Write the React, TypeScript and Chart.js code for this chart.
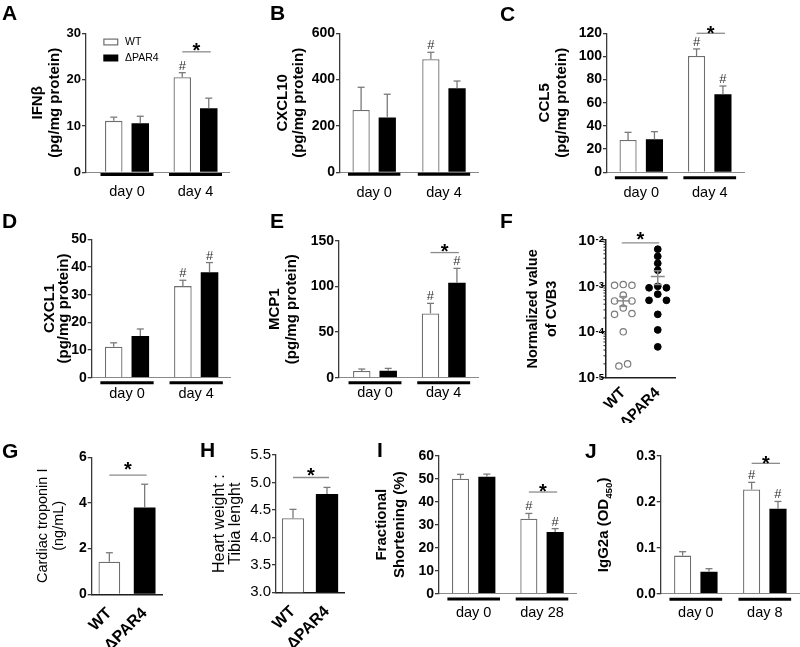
import React, { useEffect, useRef } from "react";
import { Chart, registerables } from "chart.js";

Chart.register(...registerables);

const FONT = "'Liberation Sans', Arial, Helvetica, sans-serif";
Chart.defaults.font.family = FONT;

// ================= DATA =================
const genotypes = ["WT", "ΔPAR4"];
const groupsDay4 = ["day 0", "day 4"];
const groupsDay28 = ["day 0", "day 28"];
const groupsDay8 = ["day 0", "day 8"];

// A  IFNβ
const ifnbWT = [11.1, 20.5];
const ifnbWTSem = [0.8, 1.0];
const ifnbKO = [10.6, 13.8];
const ifnbKOSem = [1.5, 2.2];
const ifnbWTHash = [false, true];
const ifnbKOHash = [false, false];
const ifnbStar = [null, 26];
const ifnbAxis = [0, 30, 10];

// B  CXCL10
const cxcl10WT = [269, 488];
const cxcl10WTSem = [98, 30];
const cxcl10KO = [237, 363];
const cxcl10KOSem = [100, 31];
const cxcl10WTHash = [false, true];
const cxcl10KOHash = [false, false];
const cxcl10Star = [null, null];
const cxcl10Axis = [0, 600, 200];

// C  CCL5
const ccl5WT = [27.9, 100.4];
const ccl5WTSem = [6.6, 6.1];
const ccl5KO = [28.5, 67.3];
const ccl5KOSem = [6.6, 7.2];
const ccl5WTHash = [false, true];
const ccl5KOHash = [false, true];
const ccl5Star = [null, 120];
const ccl5Axis = [0, 120, 20];

// D  CXCL1
const cxcl1WT = [11.2, 33.1];
const cxcl1WTSem = [1.4, 2.1];
const cxcl1KO = [15.1, 38.1];
const cxcl1KOSem = [2.5, 3.5];
const cxcl1WTHash = [false, true];
const cxcl1KOHash = [false, true];
const cxcl1Star = [null, null];
const cxcl1Axis = [0, 50, 10];

// E  MCP1
const mcp1WT = [7.3, 70.4];
const mcp1WTSem = [2.2, 11.0];
const mcp1KO = [7.7, 104.0];
const mcp1KOSem = [2.5, 15.7];
const mcp1WTHash = [false, true];
const mcp1KOHash = [false, true];
const mcp1Star = [null, 137];
const mcp1Axis = [0, 150, 50];

// F  CVB3 (normalized value, individual animals)
const cvb3WT = [1.07e-3, 1.03e-3, 1.03e-3, 6.3e-4, 4.7e-4, 4.7e-4, 3.3e-4, 2.5e-4, 2.4e-4, 1.0e-4, 2.0e-5, 1.8e-5];
const cvb3KO = [6.3e-3, 4.4e-3, 3.1e-3, 2.2e-3, 9.8e-4, 9.1e-4, 9.1e-4, 6.6e-4, 4.85e-4, 4.85e-4, 2.4e-4, 1.1e-4, 4.7e-5];
const cvb3Star = 8.7e-3;
const cvb3Ticks = [1e-5, 1e-4, 1e-3, 1e-2];

// G  Cardiac troponin I
const troponin = [1.43, 3.8];
const troponinSem = [0.39, 1.02];
const troponinStar = 5.22;
const troponinAxis = [0, 6, 2];

// H  Heart weight : tibia length
const hwtl = [4.35, 4.79];
const hwtlSem = [0.16, 0.12];
const hwtlStar = 5.09;
const hwtlAxis = [3, 5.5, 0.5];

// I  Fractional shortening
const fsWT = [50.0, 32.6];
const fsWTSem = [1.9, 2.3];
const fsKO = [50.9, 26.8];
const fsKOSem = [1.1, 1.5];
const fsWTHash = [false, true];
const fsKOHash = [false, true];
const fsStar = [null, 44.2];
const fsAxis = [0, 60, 10];

// J  IgG2a
const iggWT = [0.083, 0.227];
const iggWTSem = [0.0085, 0.0156];
const iggKO = [0.048, 0.185];
const iggKOSem = [0.0065, 0.016];
const iggWTHash = [false, true];
const iggKOHash = [false, true];
const iggStar = [null, 0.284];
const iggAxis = [0, 0.3, 0.1];

// ================= HELPERS =================
function line(ctx: any, x1: number, y1: number, x2: number, y2: number) {
  ctx.beginPath();
  ctx.moveTo(x1, y1);
  ctx.lineTo(x2, y2);
  ctx.stroke();
}

function drawLetter(ctx: any, letter: string, at: number[], box: number[]) {
  ctx.save();
  ctx.fillStyle = "#000";
  ctx.font = `bold 21px ${FONT}`;
  ctx.textAlign = "left";
  ctx.textBaseline = "alphabetic";
  ctx.fillText(letter, at[0] - box[0], at[1] - box[1]);
  ctx.restore();
}

function drawStar(ctx: any, x1: number, x2: number, y: number, dy: number) {
  ctx.save();
  ctx.strokeStyle = "#8c8c8c";
  ctx.lineWidth = 1.3;
  line(ctx, x1, y, x2, y);
  ctx.fillStyle = "#000";
  ctx.font = `bold 20px ${FONT}`;
  ctx.textAlign = "center";
  ctx.textBaseline = "alphabetic";
  ctx.fillText("*", (x1 + x2) / 2, y + dy + 0.57 * 20);
  ctx.restore();
}

function drawErr(ctx: any, x: number, yTop: number, yErr: number) {
  ctx.save();
  ctx.strokeStyle = "#7a7a7a";
  ctx.lineWidth = 1.3;
  line(ctx, x, yTop, x, yErr);
  line(ctx, x - 3.5, yErr, x + 3.5, yErr);
  ctx.restore();
}

function drawHash(ctx: any, x: number, yErr: number) {
  ctx.save();
  ctx.fillStyle = "#333";
  ctx.font = `13px ${FONT}`;
  ctx.textAlign = "center";
  ctx.textBaseline = "alphabetic";
  ctx.fillText("#", x, yErr - 3);
  ctx.restore();
}

function drawRotatedSub(ctx: any, x: number, y: number, main: string, sub: string, tail: string, size: number) {
  ctx.save();
  ctx.translate(x, y);
  ctx.rotate(-Math.PI / 2);
  ctx.fillStyle = "#000";
  ctx.textAlign = "left";
  ctx.textBaseline = "alphabetic";
  const fMain = `bold ${size}px ${FONT}`;
  const fSub = `bold ${size * 0.65}px ${FONT}`;
  ctx.font = fMain;
  const w1 = ctx.measureText(main).width;
  const w3 = ctx.measureText(tail).width;
  ctx.font = fSub;
  const w2 = ctx.measureText(sub).width;
  let cx = -(w1 + w2 + w3) / 2;
  const base = size * 0.36;
  ctx.font = fMain;
  ctx.fillText(main, cx, base);
  cx += w1;
  ctx.font = fSub;
  ctx.fillText(sub, cx, base + size * 0.22);
  cx += w2;
  ctx.font = fMain;
  ctx.fillText(tail, cx, base);
  ctx.restore();
}

const mean = (a: number[]) => a.reduce((p, c) => p + c, 0) / a.length;
const semOf = (a: number[]) => {
  const m = mean(a);
  return Math.sqrt(a.reduce((p, c) => p + (c - m) * (c - m), 0) / (a.length - 1)) / Math.sqrt(a.length);
};

// beeswarm-like row arrangement (returns slot multipliers)
function swarmSlots(values: number[], pxPerDecade: number, thresh: number): number[] {
  const order = values.map((_, i) => i).sort((a, b) => values[b] - values[a]);
  const out = values.map(() => 0);
  let bin: number[] = [];
  const flush = () => {
    const n = bin.length;
    bin.forEach((id, k) => {
      let p: number;
      if (n % 2 === 1) p = k === 0 ? 0 : (k % 2 === 1 ? 1 : -1) * Math.ceil(k / 2);
      else p = (k % 2 === 0 ? 1 : -1) * (Math.floor(k / 2) + 0.5);
      out[id] = p;
    });
    bin = [];
  };
  for (const id of order) {
    if (bin.length && (Math.log10(values[bin[0]]) - Math.log10(values[id])) * pxPerDecade > thresh) flush();
    bin.push(id);
  }
  flush();
  return out;
}

const baseOptions = {
  animation: false,
  responsive: false,
  devicePixelRatio: 1,
  events: [],
};

function yAxisStyle(width: number) {
  return {
    border: { display: true, color: "#3a3a3a", width: 1.3 },
    grid: { display: true, drawOnChartArea: false, drawTicks: true, tickLength: 4, color: "#3a3a3a", lineWidth: 1.3 },
    afterFit: (sc: any) => {
      sc.width = width;
    },
  };
}

// ================= GROUPED BAR PANELS =================
type GroupedSpec = {
  letter: string;
  letterAt: number[];
  box: number[];
  area: number[];
  xRange: number[];
  groups: string[];
  wt: number[];
  wtSem: number[];
  wtHash: boolean[];
  ko: number[];
  koSem: number[];
  koHash: boolean[];
  star: (number | null)[];
  axis: number[];
  decimals: number;
  tickSize: number;
  title: string[] | null;
  titleX: number;
  titleLH: number;
  subTitle?: { main: string; sub: string; tail: string; x: number };
  labelPad: number;
  underDy: number;
  starDy: number;
  catPct: number;
  barPct: number;
  legend?: boolean;
};

function groupedPlugin(s: GroupedSpec) {
  return {
    id: "grouped" + s.letter,
    afterDraw(chart: any) {
      const ctx = chart.ctx;
      const xs = chart.scales.x;
      const ys = chart.scales.y;
      const ca = chart.chartArea;
      ctx.save();
      // group underlines
      const w = xs.getPixelForValue(1) - xs.getPixelForValue(0);
      const half = (w * s.catPct) / 2;
      ctx.strokeStyle = "#000";
      ctx.lineWidth = 3;
      s.groups.forEach((_, i) => {
        const cx = xs.getPixelForValue(i);
        line(ctx, cx - half, ca.bottom + s.underDy, cx + half, ca.bottom + s.underDy);
      });
      // error bars and # marks
      const series = [
        [s.wt, s.wtSem, s.wtHash],
        [s.ko, s.koSem, s.koHash],
      ] as any[];
      series.forEach(([vals, sem, hash], di) => {
        const meta = chart.getDatasetMeta(di);
        meta.data.forEach((bar: any, i: number) => {
          const yTop = ys.getPixelForValue(vals[i]);
          const yErr = ys.getPixelForValue(vals[i] + sem[i]);
          drawErr(ctx, bar.x, yTop, yErr);
          if (hash[i]) drawHash(ctx, bar.x, yErr);
        });
      });
      // significance brackets
      s.star.forEach((v, i) => {
        if (v === null) return;
        const b0 = chart.getDatasetMeta(0).data[i];
        const b1 = chart.getDatasetMeta(1).data[i];
        drawStar(ctx, b0.x, b1.x + 2, ys.getPixelForValue(v), s.starDy);
      });
      // legend
      if (s.legend) {
        const lx = ca.left + 17.3;
        [5.2, 21.2].forEach((dy, i) => {
          const top = ca.top + dy;
          if (i === 0) {
            ctx.fillStyle = "#fff";
            ctx.fillRect(lx, top, 15, 7);
            ctx.strokeStyle = "#6e6e6e";
            ctx.lineWidth = 1.2;
            ctx.strokeRect(lx + 0.6, top + 0.6, 13.8, 5.8);
          } else {
            ctx.fillStyle = "#000";
            ctx.fillRect(lx, top, 15, 7);
          }
          ctx.fillStyle = "#000";
          ctx.font = `10.5px ${FONT}`;
          ctx.textAlign = "left";
          ctx.textBaseline = "middle";
          ctx.fillText(genotypes[i], lx + 21.7, top + 3.8);
        });
      }
      if (s.subTitle) {
        const t = s.subTitle;
        drawRotatedSub(ctx, t.x - s.box[0], (ca.top + ca.bottom) / 2, t.main, t.sub, t.tail, 15);
      }
      ctx.restore();
      drawLetter(ctx, s.letter, s.letterAt, s.box);
    },
  };
}

function groupedConfig(s: GroupedSpec): any {
  const [bx, by, bw, bh] = s.box;
  const [L, T, R, B] = s.area;
  return {
    type: "bar",
    data: {
      datasets: [
        {
          label: genotypes[0],
          data: s.wt.map((v, i) => ({ x: i, y: v })),
          backgroundColor: "#ffffff",
          borderColor: "#6e6e6e",
          borderWidth: 1.3,
          categoryPercentage: s.catPct,
          barPercentage: s.barPct,
        },
        {
          label: genotypes[1],
          data: s.ko.map((v, i) => ({ x: i, y: v })),
          backgroundColor: "#000000",
          borderColor: "#000000",
          borderWidth: 0,
          categoryPercentage: s.catPct,
          barPercentage: s.barPct,
        },
      ],
    },
    options: {
      ...baseOptions,
      layout: { padding: { left: 0, top: T - by, right: bx + bw - R, bottom: 0 } },
      plugins: { legend: { display: false }, tooltip: { enabled: false } },
      scales: {
        x: {
          type: "linear",
          min: s.xRange[0],
          max: s.xRange[1],
          offset: false,
          bounds: "data",
          afterBuildTicks: (sc: any) => {
            sc.ticks = s.groups.map((_, i) => ({ value: i }));
          },
          afterFit: (sc: any) => {
            sc.height = by + bh - B;
          },
          ticks: {
            callback: (v: any) => s.groups[v] ?? "",
            autoSkip: false,
            maxRotation: 0,
            minRotation: 0,
            padding: s.labelPad,
            color: "#000",
            font: { family: FONT, size: 14.5 },
          },
          grid: { display: false, drawTicks: false, offset: false },
          border: { display: true, color: "#8a8a8a", width: 1 },
        },
        y: {
          type: "linear",
          min: s.axis[0],
          max: s.axis[1],
          ...yAxisStyle(L - bx),
          ticks: {
            stepSize: s.axis[2],
            padding: 1,
            color: "#000",
            font: { family: FONT, size: s.tickSize, weight: "bold" },
            callback: (v: any) => Number(v).toFixed(s.decimals),
          },
          title: s.title
            ? {
                display: true,
                text: s.title,
                color: "#000",
                font: { family: FONT, size: 15, weight: "bold", lineHeight: s.titleLH / 15 },
                padding: { top: s.titleX - bx - s.titleLH / 2, bottom: 0 },
              }
            : { display: false },
        },
      },
    },
    plugins: [groupedPlugin(s)],
  };
}

const specA: GroupedSpec = {
  letter: "A", letterAt: [2, 20], box: [0, 0, 262, 205], area: [86, 33.3, 229.75, 172.3], xRange: [-0.599, 1.5],
  groups: groupsDay4, wt: ifnbWT, wtSem: ifnbWTSem, wtHash: ifnbWTHash, ko: ifnbKO, koSem: ifnbKOSem, koHash: ifnbKOHash,
  star: ifnbStar, axis: ifnbAxis, decimals: 0, tickSize: 13, title: ["IFNβ", "(pg/mg protein)"], titleX: 38, titleLH: 17,
  labelPad: 10.7, underDy: 2.2, starDy: -6.7, catPct: 0.774, barPct: 0.66, legend: true,
};
const specB: GroupedSpec = {
  letter: "B", letterAt: [270, 20], box: [266, 0, 230, 205], area: [340, 33.3, 478.85, 172.3], xRange: [-0.49, 1.5],
  groups: groupsDay4, wt: cxcl10WT, wtSem: cxcl10WTSem, wtHash: cxcl10WTHash, ko: cxcl10KO, koSem: cxcl10KOSem, koHash: cxcl10KOHash,
  star: cxcl10Star, axis: cxcl10Axis, decimals: 0, tickSize: 14, title: ["CXCL10", "(pg/mg protein)"], titleX: 283.3, titleLH: 15.7,
  labelPad: 11.7, underDy: 2, starDy: -6, catPct: 0.75, barPct: 0.66,
};
const specC: GroupedSpec = {
  letter: "C", letterAt: [500, 21], box: [498, 0, 302, 205], area: [607, 33.3, 744, 172.3], xRange: [-0.5, 1.5],
  groups: groupsDay4, wt: ccl5WT, wtSem: ccl5WTSem, wtHash: ccl5WTHash, ko: ccl5KO, koSem: ccl5KOSem, koHash: ccl5KOHash,
  star: ccl5Star, axis: ccl5Axis, decimals: 0, tickSize: 14, title: ["CCL5", "(pg/mg protein)"], titleX: 545, titleLH: 16.7,
  labelPad: 11.7, underDy: 5.4, starDy: -5, catPct: 0.77, barPct: 0.65,
};
const specD: GroupedSpec = {
  letter: "D", letterAt: [2, 228], box: [0, 205, 262, 200], area: [91.7, 239.3, 230.8, 377.7], xRange: [-0.51, 1.5],
  groups: groupsDay4, wt: cxcl1WT, wtSem: cxcl1WTSem, wtHash: cxcl1WTHash, ko: cxcl1KO, koSem: cxcl1KOSem, koHash: cxcl1KOHash,
  star: cxcl1Star, axis: cxcl1Axis, decimals: 0, tickSize: 14, title: ["CXCL1", "(pg/mg protein)"], titleX: 50, titleLH: 14.3,
  labelPad: 7.9, underDy: 5, starDy: -6, catPct: 0.77, barPct: 0.66,
};
const specE: GroupedSpec = {
  letter: "E", letterAt: [270, 228], box: [266, 205, 230, 200], area: [339, 240.7, 478.05, 377.7], xRange: [-0.524, 1.5],
  groups: groupsDay4, wt: mcp1WT, wtSem: mcp1WTSem, wtHash: mcp1WTHash, ko: mcp1KO, koSem: mcp1KOSem, koHash: mcp1KOHash,
  star: mcp1Star, axis: mcp1Axis, decimals: 0, tickSize: 14, title: ["MCP1", "(pg/mg protein)"], titleX: 275, titleLH: 16.7,
  labelPad: 6.9, underDy: 5, starDy: -5.6, catPct: 0.77, barPct: 0.66,
};
const specI: GroupedSpec = {
  letter: "I", letterAt: [377, 457], box: [372, 425, 210, 222], area: [439, 455.7, 576.15, 593.7], xRange: [-0.508, 1.5],
  groups: groupsDay28, wt: fsWT, wtSem: fsWTSem, wtHash: fsWTHash, ko: fsKO, koSem: fsKOSem, koHash: fsKOHash,
  star: fsStar, axis: fsAxis, decimals: 0, tickSize: 14, title: ["Fractional", "Shortening (%)"], titleX: 382, titleLH: 17.5,
  labelPad: 10.9, underDy: 5.3, starDy: -5.3, catPct: 0.77, barPct: 0.65,
};
const specJ: GroupedSpec = {
  letter: "J", letterAt: [585, 458], box: [582, 425, 218, 222], area: [660.7, 456, 799.3, 593.7], xRange: [-0.509, 1.5],
  groups: groupsDay8, wt: iggWT, wtSem: iggWTSem, wtHash: iggWTHash, ko: iggKO, koSem: iggKOSem, koHash: iggKOHash,
  star: iggStar, axis: iggAxis, decimals: 1, tickSize: 14, title: null, titleX: 603, titleLH: 15,
  subTitle: { main: "IgG2a (OD", sub: "450", tail: ")", x: 603 },
  labelPad: 10.9, underDy: 5.6, starDy: -5, catPct: 0.764, barPct: 0.65,
};

// ================= WT vs ΔPAR4 BAR PANELS (G, H) =================
type PairSpec = {
  letter: string;
  letterAt: number[];
  box: number[];
  area: number[];
  values: number[];
  sem: number[];
  star: number;
  axis: number[];
  decimals: number;
  tickFont: any;
  title: string[];
  titleX: number;
  titleLH: number;
  titleFont: any;
  labelPad: number;
  starDy: number;
  catPct: number;
  barPct: number;
};

function pairConfig(s: PairSpec): any {
  const [bx, by, bw, bh] = s.box;
  const [L, T, R, B] = s.area;
  return {
    type: "bar",
    data: {
      labels: genotypes,
      datasets: [
        {
          data: s.values,
          backgroundColor: ["#ffffff", "#000000"],
          borderColor: ["#6e6e6e", "#000000"],
          borderWidth: [1.3, 0],
          categoryPercentage: s.catPct,
          barPercentage: s.barPct,
        },
      ],
    },
    options: {
      ...baseOptions,
      layout: { padding: { left: 0, top: T - by, right: bx + bw - R, bottom: 0 } },
      plugins: { legend: { display: false }, tooltip: { enabled: false } },
      scales: {
        x: {
          type: "category",
          offset: true,
          afterFit: (sc: any) => {
            sc.height = by + bh - B;
          },
          ticks: {
            autoSkip: false,
            maxRotation: 45,
            minRotation: 45,
            padding: s.labelPad,
            color: "#000",
            font: { family: FONT, size: 16, weight: "bold" },
          },
          grid: { display: false, drawTicks: false },
          border: { display: true, color: "#1e1e1e", width: 1.5 },
        },
        y: {
          type: "linear",
          min: s.axis[0],
          max: s.axis[1],
          ...yAxisStyle(L - bx),
          ticks: {
            stepSize: s.axis[2],
            padding: 1,
            color: "#000",
            font: s.tickFont,
            callback: (v: any) => Number(v).toFixed(s.decimals),
          },
          title: {
            display: true,
            text: s.title,
            color: "#000",
            font: { ...s.titleFont, lineHeight: s.titleLH / s.titleFont.size },
            padding: { top: s.titleX - bx - s.titleLH / 2, bottom: 0 },
          },
        },
      },
    },
    plugins: [
      {
        id: "pair" + s.letter,
        afterDraw(chart: any) {
          const ctx = chart.ctx;
          const ys = chart.scales.y;
          const bars = chart.getDatasetMeta(0).data;
          bars.forEach((bar: any, i: number) => {
            drawErr(ctx, bar.x, ys.getPixelForValue(s.values[i]), ys.getPixelForValue(s.values[i] + s.sem[i]));
          });
          drawStar(ctx, bars[0].x, bars[1].x + 2, ys.getPixelForValue(s.star), s.starDy);
          drawLetter(ctx, s.letter, s.letterAt, s.box);
        },
      },
    ],
  };
}

const specG: PairSpec = {
  letter: "G", letterAt: [2, 458], box: [0, 425, 196, 222], area: [91.7, 457.3, 162.3, 594.3],
  values: troponin, sem: troponinSem, star: troponinStar, axis: troponinAxis, decimals: 0,
  tickFont: { family: FONT, size: 14, weight: "bold" },
  title: ["Cardiac troponin I", "(ng/mL)"], titleX: 42.7, titleLH: 16.6,
  titleFont: { family: FONT, size: 14.5, weight: "normal" },
  labelPad: 9.7, starDy: -11, catPct: 0.8, barPct: 0.77,
};
const specH: PairSpec = {
  letter: "H", letterAt: [200, 457], box: [198, 425, 176, 222], area: [276, 455, 344, 592.3],
  values: hwtl, sem: hwtlSem, star: hwtlStar, axis: hwtlAxis, decimals: 1,
  tickFont: { family: FONT, size: 15, weight: "normal" },
  title: ["Heart weight :", "Tibia lenght"], titleX: 220, titleLH: 15.7,
  titleFont: { family: FONT, size: 16, weight: "normal" },
  labelPad: 10, starDy: -7.3, catPct: 0.8, barPct: 0.82,
};

// ================= F: scatter on log axis =================
const geoF = {
  letter: "F", letterAt: [500, 228], box: [498, 205, 302, 218], area: [606, 240, 675, 377.7],
  titleX: 532.5, titleLH: 19.2, labelPad: 6.4, starDy: -8.4,
};

function cvb3Config(): any {
  const g = geoF;
  const [bx, by, bw, bh] = g.box;
  const [L, T, R, B] = g.area;
  const pxPerDecade = (B - T) / 3;
  const slotUnits = 8.7 / ((R - L) / 2);
  const wtSlots = swarmSlots(cvb3WT, pxPerDecade, 6.5);
  const koSlots = swarmSlots(cvb3KO, pxPerDecade, 6.5);
  return {
    type: "scatter",
    data: {
      datasets: [
        {
          label: genotypes[0],
          data: cvb3WT.map((v, i) => ({ x: 0 + wtSlots[i] * slotUnits, y: v })),
          pointRadius: 3.2,
          pointBackgroundColor: "#ffffff",
          pointBorderColor: "#7a7a7a",
          pointBorderWidth: 1.2,
        },
        {
          label: genotypes[1],
          data: cvb3KO.map((v, i) => ({ x: 1 + koSlots[i] * slotUnits, y: v })),
          pointRadius: 3.4,
          pointBackgroundColor: "#000000",
          pointBorderColor: "#000000",
          pointBorderWidth: 1,
        },
      ],
    },
    options: {
      ...baseOptions,
      clip: false,
      layout: { padding: { left: 0, top: T - by, right: bx + bw - R, bottom: 0 } },
      plugins: { legend: { display: false }, tooltip: { enabled: false } },
      scales: {
        x: {
          type: "linear",
          min: -0.5,
          max: 1.5,
          offset: false,
          bounds: "data",
          afterBuildTicks: (sc: any) => {
            sc.ticks = genotypes.map((_, i) => ({ value: i }));
          },
          afterFit: (sc: any) => {
            sc.height = by + bh - B;
          },
          ticks: {
            callback: (v: any) => genotypes[v] ?? "",
            autoSkip: false,
            maxRotation: 45,
            minRotation: 45,
            padding: g.labelPad,
            color: "#000",
            font: { family: FONT, size: 15, weight: "bold" },
          },
          grid: { display: false, drawTicks: false },
          border: { display: true, color: "#1e1e1e", width: 1.5 },
        },
        y: {
          type: "logarithmic",
          min: cvb3Ticks[0],
          max: cvb3Ticks[cvb3Ticks.length - 1],
          afterBuildTicks: (sc: any) => {
            sc.ticks = cvb3Ticks.map((v) => ({ value: v, major: true }));
          },
          border: { display: true, color: "#1e1e1e", width: 1.5 },
          grid: { display: true, drawOnChartArea: false, drawTicks: true, tickLength: 5, color: "#1e1e1e", lineWidth: 1.3 },
          afterFit: (sc: any) => {
            sc.width = L - bx;
          },
          ticks: { display: false },
          title: {
            display: true,
            text: ["Normalized value", "of CVB3"],
            color: "#000",
            font: { family: FONT, size: 14.5, weight: "bold", lineHeight: g.titleLH / 14.5 },
            padding: { top: g.titleX - bx - g.titleLH / 2, bottom: 0 },
          },
        },
      },
    },
    plugins: [
      {
        id: "cvb3",
        afterDraw(chart: any) {
          const ctx = chart.ctx;
          const xs = chart.scales.x;
          const ys = chart.scales.y;
          const ca = chart.chartArea;
          ctx.save();
          // minor ticks
          ctx.strokeStyle = "#1e1e1e";
          ctx.lineWidth = 1;
          for (let e = Math.round(Math.log10(cvb3Ticks[0])); e < Math.round(Math.log10(cvb3Ticks[cvb3Ticks.length - 1])); e++) {
            for (let k = 2; k <= 9; k++) {
              const y = ys.getPixelForValue(k * Math.pow(10, e));
              line(ctx, ca.left - 2.5, y, ca.left, y);
            }
          }
          // tick labels with superscript exponent
          ctx.fillStyle = "#000";
          cvb3Ticks.forEach((v) => {
            const y = ys.getPixelForValue(v);
            const exp = String(Math.round(Math.log10(v)));
            const xr = ca.left - 2;
            ctx.font = `bold 9.5px ${FONT}`;
            const sw = ctx.measureText(exp).width;
            ctx.textAlign = "right";
            ctx.textBaseline = "alphabetic";
            ctx.fillText(exp, xr, y + 2.2);
            ctx.font = `bold 15px ${FONT}`;
            ctx.textBaseline = "middle";
            ctx.fillText("10", xr - sw - 0.5, y + 0.5);
          });
          // mean ± SEM
          [cvb3WT, cvb3KO].forEach((arr, di) => {
            const cx = xs.getPixelForValue(di);
            const m = mean(arr);
            const e = semOf(arr);
            const ym = ys.getPixelForValue(m);
            const yp = ys.getPixelForValue(m + e);
            const yn = ys.getPixelForValue(m - e);
            ctx.strokeStyle = "#8a8a8a";
            ctx.lineWidth = 1.5;
            line(ctx, cx - 7, ym, cx + 7, ym);
            line(ctx, cx, yp, cx, yn);
            line(ctx, cx - 4, yp, cx + 4, yp);
            line(ctx, cx - 4, yn, cx + 4, yn);
          });
          ctx.restore();
          drawStar(ctx, xs.getPixelForValue(0) - 1.5, xs.getPixelForValue(1) + 1.5, ys.getPixelForValue(cvb3Star), g.starDy);
          drawLetter(ctx, g.letter, g.letterAt, g.box);
        },
      },
    ],
  };
}

// ================= COMPONENTS =================
function ChartCanvas({ box, make }: { box: number[]; make: () => any }) {
  const ref = useRef<HTMLCanvasElement | null>(null);
  useEffect(() => {
    const chart = new Chart(ref.current as HTMLCanvasElement, make());
    return () => chart.destroy();
  }, []);
  return (
    <canvas
      ref={ref}
      width={box[2]}
      height={box[3]}
      style={{ position: "absolute", left: box[0], top: box[1], width: box[2], height: box[3] }}
    />
  );
}

export default function App() {
  return (
    <div
      style={{
        position: "absolute",
        left: 0,
        top: 0,
        width: 800,
        height: 647,
        background: "#ffffff",
        overflow: "hidden",
      }}
    >
      <ChartCanvas box={specA.box} make={() => groupedConfig(specA)} />
      <ChartCanvas box={specB.box} make={() => groupedConfig(specB)} />
      <ChartCanvas box={specC.box} make={() => groupedConfig(specC)} />
      <ChartCanvas box={specD.box} make={() => groupedConfig(specD)} />
      <ChartCanvas box={specE.box} make={() => groupedConfig(specE)} />
      <ChartCanvas box={geoF.box} make={() => cvb3Config()} />
      <ChartCanvas box={specG.box} make={() => pairConfig(specG)} />
      <ChartCanvas box={specH.box} make={() => pairConfig(specH)} />
      <ChartCanvas box={specI.box} make={() => groupedConfig(specI)} />
      <ChartCanvas box={specJ.box} make={() => groupedConfig(specJ)} />
    </div>
  );
}
